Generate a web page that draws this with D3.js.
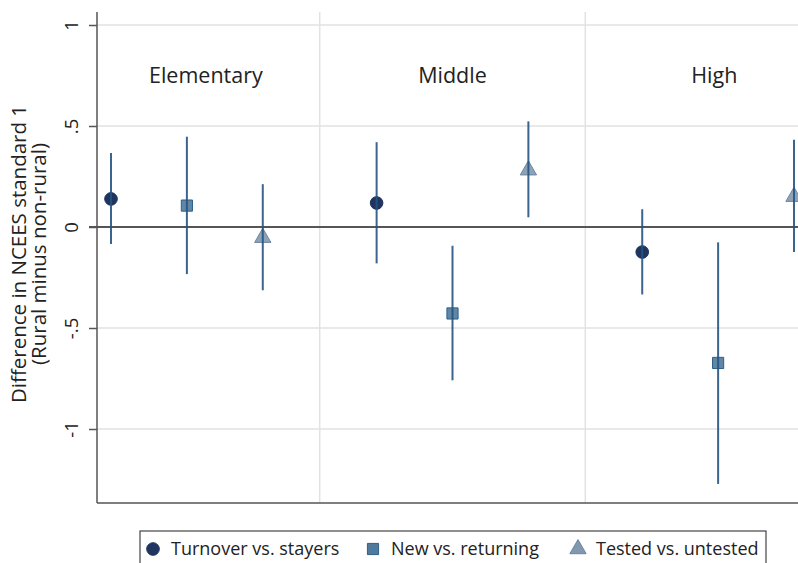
<!DOCTYPE html>
<html>
<head>
<meta charset="utf-8">
<script src="https://cdn.jsdelivr.net/npm/d3@7"></script>
<style>
  body { margin: 0; background: #fff; }
  text { font-family: "Open Sans", "Noto Sans", sans-serif; fill: #222; }
</style>
</head>
<body>
<svg id="chart"></svg>
<script>
let groups = ["Elementary", "Middle", "High"],
  series = ["Turnover vs. stayers", "New vs. returning", "Tested vs. untested"],
  estimates = [[0.139, 0.106, -0.048], [0.119, -0.428, 0.286], [-0.124, -0.673, 0.155]],
  lower = [[-0.084, -0.233, -0.313], [-0.18, -0.759, 0.048], [-0.334, -1.272, -0.124]],
  upper = [[0.366, 0.447, 0.212], [0.42, -0.093, 0.523], [0.088, -0.076, 0.432]],
  y_ticks = [1, 0.5, 0, -0.5, -1],
  y_tick_labels = ["1", ".5", "0", "-.5", "-1"];

let width = 798, height = 563,
  margins = {left: 97, top: 12, bottom: 503, right: 798},
  fills = ["#1f3560", "#4f7a9c", "#8298ae"],
  strokes = ["#1f3560", "#2f5f88", "#6a86a2"],
  line_color = "#265382";

let svg = d3.select("#chart").attr("width", width).attr("height", height);

// slot position: group g, series s -> g * 3.5 + s
let x = d3.scaleLinear().domain([0, 9]).range([111, 794]),
  y = d3.scaleLinear().domain([-1, 1]).range([429, 25]),
  slot = (g, s) => g * 3.5 + s;

let rows = [];
groups.forEach((g, gi) => series.forEach((s, si) => rows.push({
  group: g, gi: gi, si: si, est: estimates[gi][si], lo: lower[gi][si], hi: upper[gi][si]
})));

// grid lines
svg.append("g").selectAll("line")
  .data(y_ticks.filter(d => d != 0)).enter()
  .append("line")
  .attr("x1", margins.left).attr("x2", margins.right)
  .attr("y1", d => y(d)).attr("y2", d => y(d))
  .attr("stroke", "#e2e2e2").attr("stroke-width", 1.5);

// panel dividers
svg.append("g").selectAll("line")
  .data([2.75, 6.25]).enter()
  .append("line")
  .attr("x1", d => x(d)).attr("x2", d => x(d))
  .attr("y1", margins.top).attr("y2", margins.bottom)
  .attr("stroke", "#e2e2e2").attr("stroke-width", 1.5);

// panel labels
let label_pos = [1.25, 4.5, 7.95];
svg.append("g").selectAll("text")
  .data(groups).enter()
  .append("text")
  .attr("x", (d, i) => x(label_pos[i]))
  .attr("y", 83)
  .attr("text-anchor", "middle")
  .style("font-size", "21.5px")
  .text(d => d);

// zero line
svg.append("line")
  .attr("x1", margins.left - 8).attr("x2", margins.right)
  .attr("y1", y(0)).attr("y2", y(0))
  .attr("stroke", "#555").attr("stroke-width", 2);

// y axis
let y_axis = svg.append("g").attr("transform", `translate(${margins.left}, 0)`)
  .call(d3.axisLeft(y).tickValues(y_ticks).tickSize(8).tickFormat((d, i) => y_tick_labels[i]));
y_axis.select(".domain").remove();
y_axis.selectAll(".tick line").attr("stroke", "#555").attr("stroke-width", 1.5);
y_axis.selectAll(".tick text")
  .attr("x", 0).attr("y", 0).attr("dy", null)
  .attr("text-anchor", "middle")
  .attr("transform", "translate(-19, 0) rotate(-90)")
  .style("font-size", "18.5px").style("font-family", "'Open Sans', sans-serif").attr("fill", "#222");

svg.append("line")
  .attr("x1", margins.left).attr("x2", margins.left)
  .attr("y1", margins.top).attr("y2", margins.bottom)
  .attr("stroke", "#555").attr("stroke-width", 1.5);
svg.append("line")
  .attr("x1", margins.left).attr("x2", margins.right)
  .attr("y1", margins.bottom).attr("y2", margins.bottom)
  .attr("stroke", "#555").attr("stroke-width", 1.5);

// y title
let title = svg.append("text")
  .attr("transform", `translate(0, 254) rotate(-90)`)
  .attr("text-anchor", "middle")
  .style("font-size", "20.5px");
title.append("tspan").attr("x", 0).attr("y", 26).text("Difference in NCEES standard 1");
title.append("tspan").attr("x", 0).attr("y", 46).text("(Rural minus non-rural)");

// markers
let symbols = [d3.symbolCircle, d3.symbolSquare, d3.symbolTriangle],
  sizes = [125, 125, 115];

let marks = svg.append("g");
marks.selectAll("path")
  .data(rows).enter()
  .append("path")
  .attr("d", d => d3.symbol().type(symbols[d.si]).size(sizes[d.si])())
  .attr("transform", d => `translate(${x(slot(d.gi, d.si))}, ${y(d.est) + (d.si == 2 ? 1 : 0)})`)
  .attr("fill", d => fills[d.si])
  .attr("stroke", d => strokes[d.si])
  .attr("stroke-width", 1)
  .attr("fill-opacity", d => d.si == 0 ? 1 : 0.9);

// confidence intervals
svg.append("g").selectAll("line")
  .data(rows).enter()
  .append("line")
  .attr("x1", d => x(slot(d.gi, d.si))).attr("x2", d => x(slot(d.gi, d.si)))
  .attr("y1", d => y(d.hi)).attr("y2", d => y(d.lo))
  .attr("stroke", line_color).attr("stroke-width", 2)
  .attr("stroke-opacity", 0.9);

// legend
let legend = svg.append("g");
legend.append("rect")
  .attr("x", 140).attr("y", 531).attr("width", 626).attr("height", 40)
  .attr("fill", "#fff").attr("stroke", "#444").attr("stroke-width", 1.2);
let legend_x = [153, 373, 578];
let cells = legend.selectAll("g")
  .data(series).enter()
  .append("g")
  .attr("transform", (d, i) => `translate(${legend_x[i]}, 549)`);
cells.append("path")
  .attr("d", (d, i) => d3.symbol().type(symbols[i]).size(sizes[i])())
  .attr("fill", (d, i) => fills[i])
  .attr("stroke", (d, i) => strokes[i]);
cells.append("text")
  .attr("x", 18).attr("y", 6)
  .style("font-size", "18px")
  .text(d => d);
</script>
</body>
</html>
